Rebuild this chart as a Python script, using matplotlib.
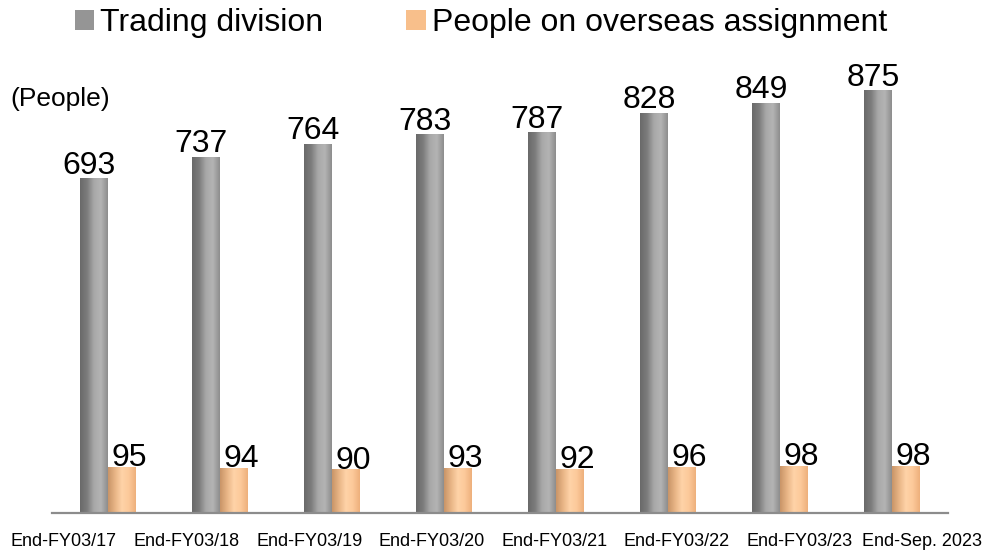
import numpy as np
import matplotlib
matplotlib.use("Agg")
import matplotlib.pyplot as plt
from matplotlib.colors import LinearSegmentedColormap
from matplotlib.patches import Patch

plt.rcParams['font.family'] = ['Liberation Sans', 'DejaVu Sans']

# data
categories = ['End-FY03/17', 'End-FY03/18', 'End-FY03/19', 'End-FY03/20',
              'End-FY03/21', 'End-FY03/22', 'End-FY03/23', 'End-Sep. 2023']
trading = [693, 737, 764, 783, 787, 828, 849, 875]
overseas = [95, 94, 90, 93, 92, 96, 98, 98]

# cylinder-like horizontal gradients
gray_cmap = LinearSegmentedColormap.from_list(
    'g', ['#6a6a6a', '#7c7c7c', '#a8a8a8', '#b4b4b4', '#8e8e8e'])
orange_cmap = LinearSegmentedColormap.from_list(
    'o', ['#c99568', '#e8b586', '#ffd3a8', '#fcc99a', '#eeb07c'])

fig = plt.figure(figsize=(9.84, 5.51), dpi=100)
ax = fig.add_axes([52 / 984, 38 / 551, 896 / 984, 483.5 / 551])

x = np.arange(len(categories))
w = 0.25
grad = np.linspace(0, 1, 64).reshape(1, -1)


def fill_gradient(bars, cmap):
    for b in bars:
        x0, y0 = b.get_x(), b.get_y()
        x1, y1 = x0 + b.get_width(), y0 + b.get_height()
        im = ax.imshow(grad, cmap=cmap, aspect='auto', extent=[x0, x1, y0, y1],
                       zorder=2, interpolation='bilinear')
        im.set_clip_path(b)


b1 = ax.bar(x - w / 2, trading, w, facecolor='none', edgecolor='none', zorder=2)
b2 = ax.bar(x + w / 2, overseas, w, facecolor='none', edgecolor='none', zorder=2)
fill_gradient(b1, gray_cmap)
fill_gradient(b2, orange_cmap)

for xi, v in zip(x, trading):
    ax.annotate(f'{v}', (xi - w / 2, v), xytext=(-3.5, 3), textcoords='offset points',
                ha='center', va='baseline', fontsize=23, color='black')
for xi, v in zip(x, overseas):
    ax.annotate(f'{v}', (xi + w / 2, v), xytext=(5.5, 0.5), textcoords='offset points',
                ha='center', va='baseline', fontsize=23, color='black')

ax.set_xlim(-0.5, len(categories) - 0.5)
ax.set_ylim(0, 1000)
ax.set_xticks([])
ax.set_yticks([])
for s in ['top', 'right', 'left']:
    ax.spines[s].set_visible(False)
ax.spines['bottom'].set_color('#8c8c8c')
ax.spines['bottom'].set_linewidth(1.6)

# category labels are spaced independently of the bars
label_px = np.linspace(64, 922, len(categories))
for px, lab in zip(label_px, categories):
    fig.text(px / 984, 1 - 541 / 551, lab, ha='center', va='center', fontsize=13)

fig.text(10 / 984, 1 - 99 / 551, '(People)', ha='left', va='center', fontsize=19)

handles = [Patch(facecolor='#959595', edgecolor='none'),
           Patch(facecolor='#f8bf8b', edgecolor='none')]
fig.legend(handles, ['Trading division', 'People on overseas assignment'],
           loc='center', bbox_to_anchor=(481 / 984, 1 - 23 / 551), ncol=2,
           frameon=False, fontsize=23, handlelength=0.6, handleheight=0.6,
           handletextpad=0.2, columnspacing=2.6, borderpad=0)

fig.savefig('out.png', dpi=100)
